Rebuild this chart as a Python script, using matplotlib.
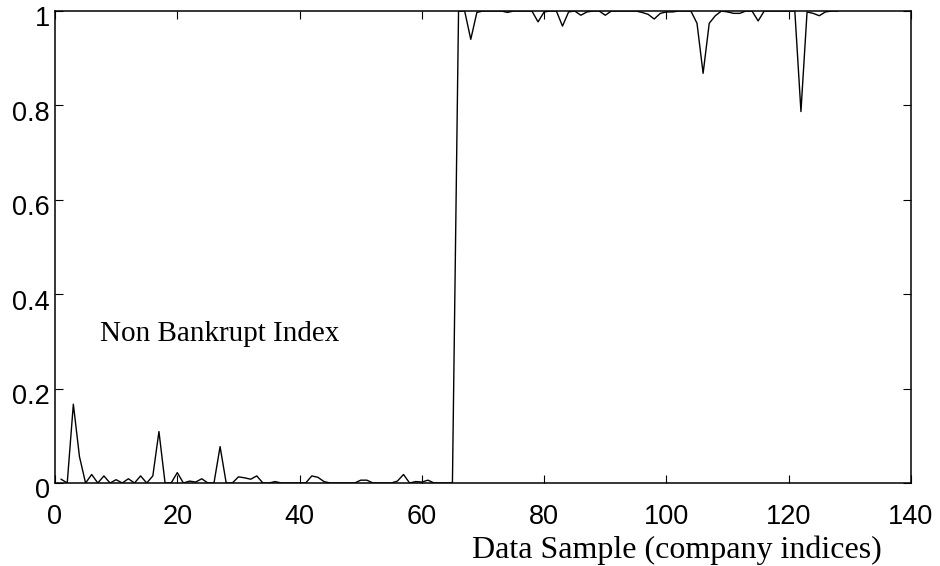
import numpy as np
import matplotlib
matplotlib.use("Agg")
import matplotlib.pyplot as plt
import matplotlib.transforms as mtransforms

# network output per company (1..128)
sample_idx = list(range(1, 129))
output_vals = [
    0.008, 0.0, 0.167, 0.056, 0.0, 0.018, 0.0, 0.015, 0.0, 0.007,
    0.0, 0.009, 0.0, 0.015, 0.0, 0.015, 0.109, 0.0, 0.0, 0.022,
    0.0, 0.004, 0.002, 0.009, 0.0, 0.0, 0.077, 0.0, 0.0, 0.013,
    0.011, 0.008, 0.015, 0.0, 0.0, 0.003, 0.0, 0.0, 0.0, 0.0,
    0.0, 0.015, 0.012, 0.003, 0.0, 0.0, 0.0, 0.0, 0.0, 0.006,
    0.006, 0.0, 0.0, 0.0, 0.0, 0.004, 0.018, 0.0, 0.003, 0.002,
    0.006, 0.0, 0.0, 0.0, 0.0, 1.0, 1.0, 0.94, 0.997, 1.0,
    1.0, 1.0, 1.0, 0.997, 1.0, 1.0, 1.0, 1.0, 0.977, 0.998,
    1.0, 1.0, 0.968, 0.998, 1.0, 0.991, 0.998, 1.0, 1.0, 0.991,
    1.0, 1.0, 1.0, 1.0, 1.0, 0.997, 0.993, 0.983, 0.995, 0.998,
    0.998, 1.0, 1.0, 1.0, 0.974, 0.868, 0.974, 0.99, 1.0, 0.998,
    0.995, 0.995, 1.0, 1.0, 0.979, 1.0, 1.0, 1.0, 1.0, 1.0,
    1.0, 0.787, 0.998, 0.995, 0.99, 0.998, 1.0, 1.0,
]

x_ticks = [0, 20, 40, 60, 80, 100, 120, 140]
y_ticks = [0, 0.2, 0.4, 0.6, 0.8, 1.0]
y_tick_labels = ["0", "0.2", "0.4", "0.6", "0.8", "1"]

fig = plt.figure(figsize=(9.4, 5.66), dpi=100)
ax = fig.add_axes([55 / 940, 83 / 566, 856 / 940, 472 / 566])

ax.plot(sample_idx, output_vals, color="black", linewidth=1.0)

ax.set_xlim(0, 140)
ax.set_ylim(0, 1)
ax.set_xticks(x_ticks)
ax.set_xticklabels([str(t) for t in x_ticks])
ax.set_yticks(y_ticks)
ax.set_yticklabels(y_tick_labels)

for sp in ax.spines.values():
    sp.set_linewidth(1.1)

ax.tick_params(axis="both", direction="in", length=5.8, width=0.8,
               top=True, right=True, labelsize=19.5)
ax.tick_params(axis="x", pad=15)
ax.tick_params(axis="y", pad=3.6)

for lab in ax.get_xticklabels() + ax.get_yticklabels():
    lab.set_fontfamily("Liberation Sans")

# y labels sit a little below their ticks in the original
shift = mtransforms.ScaledTranslation(0, -5.5 / 100, fig.dpi_scale_trans)
for lab in ax.get_yticklabels():
    lab.set_transform(lab.get_transform() + shift)

ax.text(7.36, 0.301, "Non Bankrupt Index", fontsize=21,
        family="Liberation Serif", va="baseline", ha="left")

ax.set_xlabel("Data Sample (company indices)", fontsize=23,
              family="Liberation Serif")
ax.xaxis.label.set_verticalalignment("baseline")
ax.xaxis.set_label_coords(0.727, -75 / 472)

fig.savefig("out.png", dpi=100)
